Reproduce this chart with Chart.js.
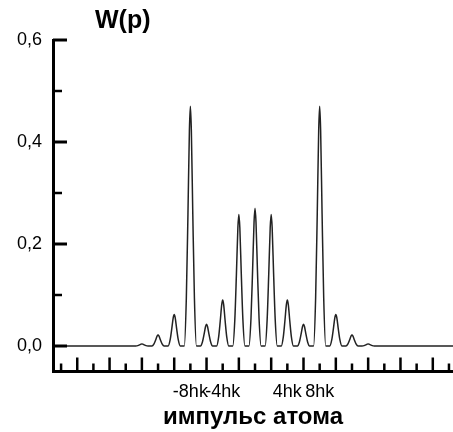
<!DOCTYPE html>
<html>
<head>
<meta charset="utf-8">
<script src="https://cdn.jsdelivr.net/npm/chart.js@4.4.1/dist/chart.umd.min.js"></script>
<style>
  html, body { margin: 0; padding: 0; background: #fff; overflow: hidden; }
</style>
</head>
<body>
<canvas id="chart" width="453" height="432"></canvas>
<script>
// atom momentum (units of hk) and probability W(p)
const momentum = [
  -25,
  -14.75, -14.5, -14.3, -14.12, -14, -13.88, -13.7, -13.5, -13.25,
  -12.75, -12.5, -12.3, -12.12, -12, -11.88, -11.7, -11.5, -11.25,
  -10.75, -10.5, -10.3, -10.12, -10, -9.88, -9.7, -9.5, -9.25,
  -8.75, -8.5, -8.3, -8.12, -8, -7.88, -7.7, -7.5, -7.25,
  -6.75, -6.5, -6.3, -6.12, -6, -5.88, -5.7, -5.5, -5.25,
  -4.75, -4.5, -4.3, -4.12, -4, -3.88, -3.7, -3.5, -3.25,
  -2.75, -2.5, -2.3, -2.12, -2, -1.88, -1.7, -1.5, -1.25,
  -0.75, -0.5, -0.3, -0.12, 0, 0.12, 0.3, 0.5, 0.75,
  1.25, 1.5, 1.7, 1.88, 2, 2.12, 2.3, 2.5, 2.75,
  3.25, 3.5, 3.7, 3.88, 4, 4.12, 4.3, 4.5, 4.75,
  5.25, 5.5, 5.7, 5.88, 6, 6.12, 6.3, 6.5, 6.75,
  7.25, 7.5, 7.7, 7.88, 8, 8.12, 8.3, 8.5, 8.75,
  9.25, 9.5, 9.7, 9.88, 10, 10.12, 10.3, 10.5, 10.75,
  11.25, 11.5, 11.7, 11.88, 12, 12.12, 12.3, 12.5, 12.75,
  13.25, 13.5, 13.7, 13.88, 14, 14.12, 14.3, 14.5, 14.75,
  24.5
];
const probability = [
  0,
  0, 0.0008, 0.0022, 0.0036, 0.004, 0.0036, 0.0022, 0.0008, 0,
  0, 0.0043, 0.0118, 0.0194, 0.0215, 0.0194, 0.0118, 0.0043, 0,
  0, 0.0124, 0.0341, 0.0558, 0.062, 0.0558, 0.0341, 0.0124, 0,
  0, 0.094, 0.2585, 0.423, 0.47, 0.423, 0.2585, 0.094, 0,
  0, 0.0085, 0.0234, 0.0383, 0.0425, 0.0383, 0.0234, 0.0085, 0,
  0, 0.018, 0.0495, 0.081, 0.09, 0.081, 0.0495, 0.018, 0,
  0, 0.0516, 0.1419, 0.2322, 0.258, 0.2322, 0.1419, 0.0516, 0,
  0, 0.054, 0.1485, 0.243, 0.27, 0.243, 0.1485, 0.054, 0,
  0, 0.0516, 0.1419, 0.2322, 0.258, 0.2322, 0.1419, 0.0516, 0,
  0, 0.018, 0.0495, 0.081, 0.09, 0.081, 0.0495, 0.018, 0,
  0, 0.0085, 0.0234, 0.0383, 0.0425, 0.0383, 0.0234, 0.0085, 0,
  0, 0.094, 0.2585, 0.423, 0.47, 0.423, 0.2585, 0.094, 0,
  0, 0.0124, 0.0341, 0.0558, 0.062, 0.0558, 0.0341, 0.0124, 0,
  0, 0.0043, 0.0118, 0.0194, 0.0215, 0.0194, 0.0118, 0.0043, 0,
  0, 0.0008, 0.0022, 0.0036, 0.004, 0.0036, 0.0022, 0.0008, 0,
  0
];

const xTickValues = [-24, -22, -20, -18, -16, -14, -12, -10, -8, -6, -4, -2, 0,
  2, 4, 6, 8, 10, 12, 14, 16, 18, 20, 22, 24];
const xLabelValues = [-8, -4, 4, 8];
const xLabelTexts = ['-8hk', '-4hk', '4hk', '8hk'];
const yTickValues = [0, 0.1, 0.2, 0.3, 0.4, 0.5, 0.6];
const yLabelValues = [0, 0.2, 0.4, 0.6];
const yLabelTexts = ['0,0', '0,2', '0,4', '0,6'];

Chart.defaults.font.family = '"Liberation Sans", Arial, sans-serif';
Chart.defaults.color = '#000';

// inward tick marks and the W(p) heading
const axisDecor = {
  id: 'axisDecor',
  afterDraw(chart) {
    const { ctx, chartArea, scales: { x, y } } = chart;
    ctx.save();
    ctx.strokeStyle = '#000';
    ctx.lineWidth = 2.5;
    x.ticks.forEach(t => {
      const px = x.getPixelForValue(t.value);
      const len = Math.abs(t.value % 4) === 2 ? 14 : 8;
      ctx.beginPath();
      ctx.moveTo(px, chartArea.bottom);
      ctx.lineTo(px, chartArea.bottom - len);
      ctx.stroke();
    });
    y.ticks.forEach(t => {
      const py = y.getPixelForValue(t.value);
      const major = Math.round(t.value * 10) % 2 === 0;
      ctx.lineWidth = major ? 3 : 2.5;
      ctx.beginPath();
      ctx.moveTo(chartArea.left, py);
      ctx.lineTo(chartArea.left + (major ? 14 : 9), py);
      ctx.stroke();
    });
    ctx.fillStyle = '#000';
    ctx.font = 'bold 25px "Liberation Sans", Arial, sans-serif';
    ctx.textBaseline = 'alphabetic';
    ctx.fillText('W(p)', chartArea.left + 42, 28);
    ctx.restore();
  }
};

new Chart(document.getElementById('chart'), {
  type: 'line',
  data: {
    datasets: [{
      data: momentum.map((m, i) => ({ x: m, y: probability[i] })),
      borderColor: '#222',
      borderWidth: 1.5,
      pointRadius: 0,
      cubicInterpolationMode: 'monotone',
      fill: false
    }]
  },
  options: {
    responsive: false,
    animation: false,
    devicePixelRatio: 1,
    layout: { padding: { top: 40, right: 0, left: 0, bottom: 0 } },
    plugins: { legend: { display: false }, title: { display: false }, tooltip: { enabled: false } },
    scales: {
      x: {
        type: 'linear',
        min: -25,
        max: 24.5,
        afterBuildTicks: s => { s.ticks = xTickValues.map(v => ({ value: v })); },
        afterFit: s => { s.height = 60.5; s.paddingLeft = 0; s.paddingRight = 0; },
        grid: { display: false, drawTicks: false },
        border: { display: true, color: '#000', width: 3 },
        ticks: {
          autoSkip: false,
          maxRotation: 0,
          padding: 10,
          font: { size: 18 },
          callback: v => {
            const i = xLabelValues.indexOf(v);
            return i >= 0 ? xLabelTexts[i] : '';
          }
        },
        title: {
          display: true,
          text: 'импульс атома',
          font: { size: 24, weight: 'bold' },
          padding: { top: 0, bottom: 0 }
        }
      },
      y: {
        min: -0.05,
        max: 0.6,
        afterBuildTicks: s => { s.ticks = yTickValues.map(v => ({ value: v })); },
        afterFit: s => { s.width = 53; },
        grid: { display: false, drawTicks: false },
        border: { display: true, color: '#000', width: 3 },
        ticks: {
          padding: 11,
          font: { size: 18 },
          callback: v => {
            const i = yLabelValues.findIndex(l => Math.abs(l - v) < 1e-6);
            return i >= 0 ? yLabelTexts[i] : '';
          }
        }
      }
    }
  },
  plugins: [axisDecor]
});
</script>
</body>
</html>
